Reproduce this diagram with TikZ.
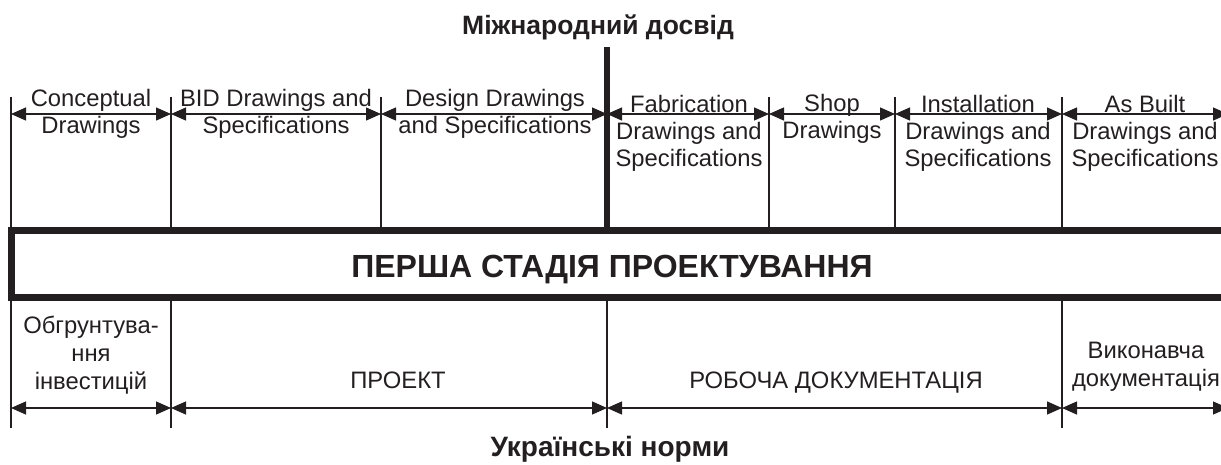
\documentclass[tikz,border=0pt]{standalone}
\usepackage{fontspec}
\setmainfont{Liberation Sans}
\usetikzlibrary{arrows.meta}
\definecolor{ink}{RGB}{35,31,32}
\begin{document}
\begin{tikzpicture}[x=1pt,y=-1pt,
  rule/.style={draw=ink,line width=1.3pt},
  dim/.style={draw=ink,line width=1.3pt,
    {Triangle[length=15pt,width=13pt]}-{Triangle[length=15pt,width=13pt]}},
  lbl/.style={text=ink,font=\fontsize{23.8}{26.6}\selectfont,align=center,anchor=base,inner sep=0pt},
  lblb/.style={lbl,font=\fontsize{23.8}{28}\selectfont},
  ttl/.style={text=ink,font=\bfseries\fontsize{26.5}{30}\selectfont,anchor=base,inner sep=0pt}]
\useasboundingbox (0,0) rectangle (1221,464);
\clip (0,0) rectangle (1221,464);
% column boundary coordinates (top)
\coordinate (u0) at (11,97);   \coordinate (v0) at (11,230);
\coordinate (u1) at (171,97);  \coordinate (v1) at (171,230);
\coordinate (u2) at (381,97);  \coordinate (v2) at (381,230);
\coordinate (u3) at (607,47);  \coordinate (v3) at (607,230);
\coordinate (u4) at (769,97);  \coordinate (v4) at (769,230);
\coordinate (u5) at (895,97);  \coordinate (v5) at (895,230);
\coordinate (u6) at (1062,97); \coordinate (v6) at (1062,230);
\coordinate (u7) at (1228,97); \coordinate (v7) at (1228,230);
% arrow ends (top)
\coordinate (a0) at (11,114);  \coordinate (a1) at (171,114);
\coordinate (a2) at (381,114); \coordinate (a3) at (607,114);
\coordinate (a4) at (769,114); \coordinate (a5) at (895,114);
\coordinate (a6) at (1062,114);\coordinate (a7) at (1228,114);
% bottom boundaries
\coordinate (p0) at (11,297);  \coordinate (q0) at (11,428);
\coordinate (p1) at (171,297); \coordinate (q1) at (171,428);
\coordinate (p2) at (607,297); \coordinate (q2) at (607,428);
\coordinate (p3) at (1062,297);\coordinate (q3) at (1062,428);
\coordinate (p4) at (1228,297);\coordinate (q4) at (1228,428);
\coordinate (b0) at (11,408);  \coordinate (b1) at (171,408);
\coordinate (b2) at (607,408); \coordinate (b3) at (1062,408);
\coordinate (b4) at (1228,408);
% vertical lines
\foreach \i in {0,1,2,4,5,6,7} {\draw[rule] (u\i) -- (v\i);}
\draw[draw=ink,line width=6pt] (u3) -- (v3);
\foreach \i in {0,1,2,3,4} {\draw[rule] (p\i) -- (q\i);}
% dimension arrows
\draw[dim] (a0) -- (a1);
\draw[dim] (a1) -- (a2);
\draw[dim] (a2) -- (a3);
\draw[dim] (a3) -- (a4);
\draw[dim] (a4) -- (a5);
\draw[dim] (a5) -- (a6);
\draw[dim] (a6) -- (a7);
\draw[dim] (b0) -- (b1);
\draw[dim] (b1) -- (b2);
\draw[dim] (b2) -- (b3);
\draw[dim] (b3) -- (b4);
% central band
\draw[draw=ink,line width=7pt] (11,230) rectangle (1245,297);
\node[ttl,font=\bfseries\fontsize{32}{36}\selectfont] (stage) at (612,277) {ПЕРША СТАДІЯ ПРОЕКТУВАННЯ};
% titles
\node[ttl] (intl) at (598,34) {Міжнародний досвід};
\node[ttl,font=\bfseries\fontsize{28}{32}\selectfont] (ukr) at (610,456) {Українські норми};
% top labels (anchored at the last line's baseline)
\node[lbl] (c1) at (91,133) {Conceptual\\Drawings};
\node[lbl] (c2) at (276,133) {BID Drawings and\\Specifications};
\node[lbl] (c3) at (495,133) {Design Drawings\\and Specifications};
\node[lbl] (c4) at (689,166) {Fabrication\\Drawings and\\Specifications};
\node[lbl] (c5) at (832,138.5) {Shop\\Drawings};
\node[lbl] (c6) at (978,166) {Installation\\Drawings and\\Specifications};
\node[lbl] (c7) at (1145,166) {As Built\\Drawings and\\Specifications};
% bottom labels
\node[lblb] (d1) at (91,389) {Обгрунтува-\\ння\\інвестицій};
\node[lblb] (d2) at (398,388) {ПРОЕКТ};
\node[lblb] (d3) at (836,388) {РОБОЧА ДОКУМЕНТАЦІЯ};
\node[lblb] (d4) at (1146,386) {Виконавча\\документація};
\end{tikzpicture}
\end{document}
